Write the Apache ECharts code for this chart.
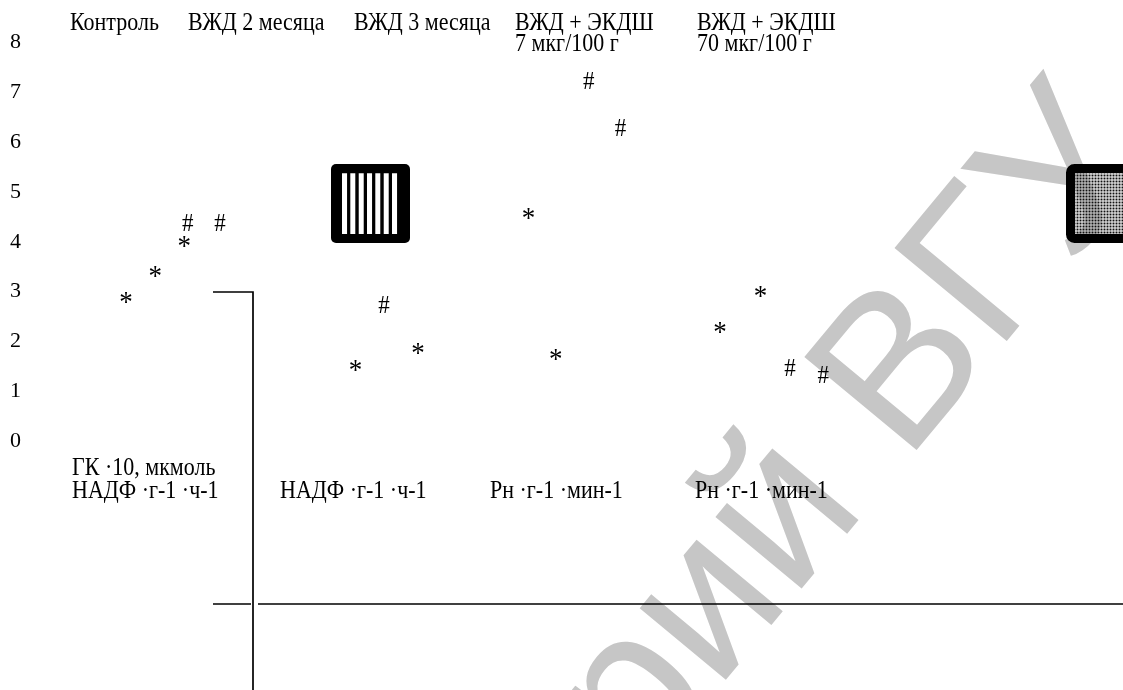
<!DOCTYPE html>
<html>
<head>
<meta charset="utf-8">
<script src="https://cdn.jsdelivr.net/npm/echarts@6/dist/echarts.min.js"></script>
<style>
  html, body { margin: 0; padding: 0; background: #fff; }
  #chart { width: 1123px; height: 690px; }
</style>
</head>
<body>
<div id="chart"></div>
<script>
// Experimental groups named along the top
const groupNames = ['Контроль', 'ВЖД 2 месяца', 'ВЖД 3 месяца', 'ВЖД + ЭКДШ\n7 мкг/100 г', 'ВЖД + ЭКДШ\n70 мкг/100 г'];
// Units printed under each block of bars
const unitLabels = ['ГК ·10, мкмоль\nНАДФ ·г-1 ·ч-1', 'НАДФ ·г-1 ·ч-1', 'Рн ·г-1 ·мин-1', 'Рн ·г-1 ·мин-1'];
// Value-axis ticks
const yTicks = [0, 1, 2, 3, 4, 5, 6, 7, 8];
// "*" marks: bar slot and height
const starSlots  = [2.0, 2.94, 3.88, 9.4, 11.42, 14.98, 15.86, 21.16, 22.47];
const starValues = [2.85, 3.37, 3.98, 1.49, 1.82, 4.53, 1.71, 2.25, 2.97];
// "#" marks: bar slot and height
const hashSlots  = [3.99, 5.03, 10.32, 16.93, 17.95, 23.42, 24.49];
const hashValues = [4.35, 4.35, 2.7, 7.2, 6.25, 1.45, 1.3];
// Repository stamp
const stampText = 'Репозиторий ВГУ';

const SERIF = '"Liberation Serif", "Times New Roman", serif';
const TEXT_PX = 22;
const TALL = 1.12;   // printed type is slightly taller than it is wide

const starData = starSlots.map((s, i) => [s, starValues[i]]);
const hashData = hashSlots.map((s, i) => [s, hashValues[i]]);

function markRenderer(ch, px, dy) {
  return function (params, api) {
    const p = api.coord([api.value(0), api.value(1)]);
    return {
      type: 'text',
      x: p[0],
      y: p[1] + dy,
      scaleY: TALL,
      style: {
        text: ch,
        fill: '#000',
        font: px + 'px ' + SERIF,
        align: 'center', verticalAlign: 'middle',
        textAlign: 'center', textVerticalAlign: 'middle'
      }
    };
  };
}

// ---- pattern tiles for the two swatches ----
function stripeTile() {
  const c = document.createElement('canvas');
  c.width = 25; c.height = 4;
  const g = c.getContext('2d');
  g.fillStyle = '#fff'; g.fillRect(0, 0, 25, 4);
  g.fillStyle = '#000';
  g.fillRect(5.0, 0, 3.3, 4);
  g.fillRect(13.3, 0, 3.4, 4);
  g.fillRect(21.7, 0, 3.3, 4);
  return c;
}
function dotTile() {
  const c = document.createElement('canvas');
  c.width = 3; c.height = 3;
  const g = c.getContext('2d');
  g.fillStyle = 'rgba(255,255,255,0.3)';
  g.fillRect(0, 0, 3, 3);
  g.fillStyle = '#111';
  g.fillRect(0, 0, 2, 2);
  return c;
}

// ---- stamp placement along a rising diagonal ----
function stampElement() {
  const F = 212;
  const font = F + 'px "Liberation Sans", Arial, sans-serif';
  const ctx = document.createElement('canvas').getContext('2d');
  ctx.font = font;
  const prefix = stampText.slice(0, stampText.indexOf('В'));
  const prefixW = ctx.measureText(prefix).width;
  const m = ctx.measureText('В');
  let mid = 0.3465 * F;
  if (m.fontBoundingBoxAscent !== undefined && m.fontBoundingBoxDescent !== undefined) {
    mid = (m.fontBoundingBoxAscent - m.fontBoundingBoxDescent) / 2;
  }
  const th = 50.3 * Math.PI / 180;
  const ux = Math.cos(th), uy = -Math.sin(th);
  const nx = -Math.sin(th), ny = -Math.cos(th);
  const bx = 917, by = 473;                 // baseline start of "ВГУ"
  const ox = bx - prefixW * ux, oy = by - prefixW * uy;
  return {
    type: 'text',
    x: ox + mid * nx,
    y: oy + mid * ny,
    rotation: th,
    z: -10,
    silent: true,
    style: {
      text: stampText,
      font: font,
      fill: '#c6c6c6',
      align: 'left', verticalAlign: 'middle',
      textAlign: 'left', textVerticalAlign: 'middle'
    }
  };
}

function textLine(str, x, y) {
  return {
    type: 'text', x: x, y: y, z: 5, scaleY: TALL, silent: true,
    style: {
      text: str, font: TEXT_PX + 'px ' + SERIF, fill: '#000',
      align: 'left', verticalAlign: 'middle', textAlign: 'left', textVerticalAlign: 'middle'
    }
  };
}

const headerX = [70, 188, 354, 515, 697];
const headerRows = [23.5, 44.5];
const unitX = [72, 280, 490, 695];
const unitRows = [468.5, 491.5];

const graphics = [stampElement()];

groupNames.forEach((t, i) => {
  t.split('\n').forEach((line, k) => graphics.push(textLine(line, headerX[i], headerRows[k])));
});
unitLabels.forEach((t, i) => {
  const lines = t.split('\n');
  const first = unitRows.length - lines.length;
  lines.forEach((line, k) => graphics.push(textLine(line, unitX[i], unitRows[first + k])));
});

// frame lines of the lower panel
graphics.push({
  type: 'polyline', z: 5, silent: true,
  shape: { points: [[213, 292], [253, 292], [253, 690]] },
  style: { stroke: '#000', lineWidth: 1.7, fill: null }
});
graphics.push({
  type: 'line', z: 5, silent: true,
  shape: { x1: 213, y1: 604, x2: 251, y2: 604 },
  style: { stroke: '#000', lineWidth: 1.7 }
});
graphics.push({
  type: 'line', z: 5, silent: true,
  shape: { x1: 258, y1: 604, x2: 1123, y2: 604 },
  style: { stroke: '#000', lineWidth: 1.7 }
});

// striped swatch
graphics.push({
  type: 'group', x: 331, y: 164, z: 5,
  children: [
    { type: 'rect', z: 5, shape: { x: 0, y: 0, width: 79, height: 79, r: 5 }, style: { fill: '#000' } },
    { type: 'rect', z: 6, x: 11, y: 9.3, shape: { x: 0, y: 0, width: 58, height: 60.7 },
      style: { fill: { image: stripeTile(), repeat: 'repeat' } } }
  ]
});
// dotted swatch
graphics.push({
  type: 'group', x: 1066, y: 164, z: 5,
  children: [
    { type: 'rect', z: 5, x: 4.5, y: 4.5, shape: { x: 0, y: 0, width: 110, height: 70, r: 4 },
      style: { stroke: '#000', lineWidth: 9, fill: { image: dotTile(), repeat: 'repeat' } } }
  ]
});

const chart = echarts.init(document.getElementById('chart'), null, { renderer: 'canvas' });
chart.setOption({
  backgroundColor: '#fff',
  animation: false,
  grid: { left: 64, right: 5, top: 42.5, bottom: 249 },
  xAxis: { type: 'value', min: 0, max: 34, show: false },
  yAxis: {
    type: 'value', min: 0, max: 8, interval: 1,
    axisLine: { show: false }, axisTick: { show: false }, splitLine: { show: false },
    axisLabel: {
      customValues: yTicks,
      align: 'left', margin: 54,
      color: '#000', fontFamily: SERIF, fontSize: 22
    }
  },
  series: [
    { type: 'custom', name: '*', data: starData, renderItem: markRenderer('*', 27, 4), z: 6, silent: true },
    { type: 'custom', name: '#', data: hashData, renderItem: markRenderer('#', 23, 0), z: 6, silent: true }
  ],
  graphic: graphics
});
</script>
</body>
</html>
